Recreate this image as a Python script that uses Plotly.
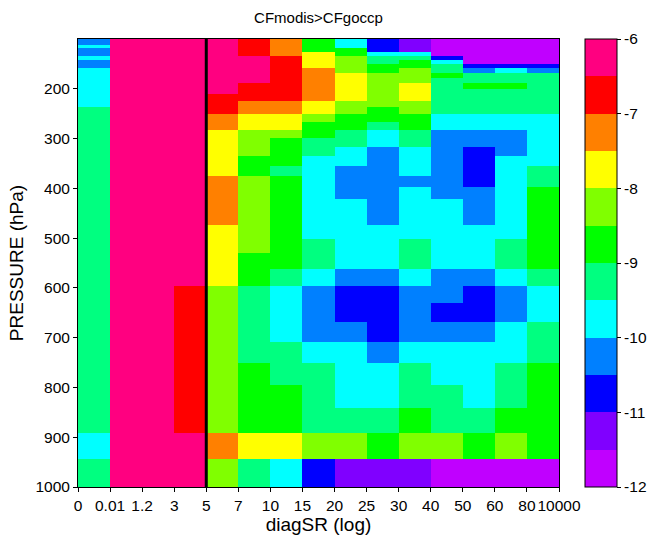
import plotly.graph_objects as go

# x categories (bin edges of diagSR, log)
x_tick_labels = ['0', '0.01', '1.2', '3', '5', '7', '10', '15', '20', '25',
                 '30', '40', '50', '60', '80', '10000']
x_edges = list(range(len(x_tick_labels)))

# pressure bin edges (hPa), top to bottom
p_edges = [100.0, 105.9, 112.2, 118.9, 125.9, 133.4, 141.3, 149.6, 158.5, 167.9,
           177.8, 188.4, 199.5, 211.3, 223.9, 237.1, 251.2, 266.1, 281.8, 298.5,
           316.2, 335.0, 354.8, 375.8, 398.1, 421.7, 446.7, 473.2, 501.2, 530.9,
           562.3, 595.7, 631.0, 668.3, 707.9, 749.9, 794.3, 841.4, 891.3, 944.1,
           1000.0]

y_ticks = [200, 300, 400, 500, 600, 700, 800, 900, 1000]

# log10 values per cell (rows = pressure bins top->bottom, cols = diagSR bins)
P, R, O, Y, L, G = -6.25, -6.75, -7.25, -7.75, -8.25, -8.75
S, C, B, D, V, M = -9.25, -9.75, -10.25, -10.75, -11.25, -11.75
z = [
    [B, P, P, P, P, R, O, G, C, D, V, M, M, M, M],
    [B, P, P, P, P, R, O, G, C, D, V, M, M, M, M],
    [C, P, P, P, P, R, O, G, C, D, V, M, M, M, M],
    [B, P, P, P, P, R, O, G, G, D, V, M, M, M, M],
    [B, P, P, P, P, R, O, Y, G, C, C, M, M, M, M],
    [C, P, P, P, P, P, R, Y, L, S, S, D, M, M, M],
    [B, P, P, P, P, P, R, Y, L, S, G, C, M, M, M],
    [B, P, P, P, P, P, R, Y, L, G, G, S, D, D, D],
    [C, P, P, P, P, P, R, O, L, G, L, S, B, C, B],
    [C, P, P, P, P, P, R, O, Y, L, L, G, S, S, S],
    [C, P, P, P, P, P, R, O, Y, L, L, S, S, S, S],
    [C, P, P, P, P, R, R, O, Y, L, Y, S, G, G, S],
    [C, P, P, P, P, R, R, O, Y, L, Y, S, S, S, S],
    [C, P, P, P, R, R, R, O, Y, L, Y, S, S, S, S],
    [C, P, P, P, R, O, O, Y, L, L, L, S, S, S, S],
    [S, P, P, P, R, O, O, Y, L, G, L, S, S, S, S],
    [S, P, P, P, O, Y, Y, L, G, G, G, C, C, C, C],
    [S, P, P, P, O, Y, Y, G, G, S, G, C, C, C, C],
    [S, P, P, P, Y, L, L, G, S, C, S, B, B, B, C],
    [S, P, P, P, Y, L, G, S, S, C, S, B, B, B, C],
    [S, P, P, P, Y, L, G, S, C, B, C, B, D, B, C],
    [S, P, P, P, Y, G, G, C, C, B, C, B, D, C, C],
    [S, P, P, P, Y, G, S, C, B, B, C, B, D, C, S],
    [S, P, P, P, O, L, G, C, B, B, B, B, D, C, S],
    [S, P, P, P, O, L, G, C, B, B, C, B, B, C, G],
    [S, P, P, P, O, L, G, C, C, B, C, C, B, C, G],
    [S, P, P, P, O, L, G, C, C, B, C, C, B, C, G],
    [S, P, P, P, Y, L, G, C, C, C, C, C, C, C, G],
    [S, P, P, P, Y, L, G, S, C, C, S, C, C, S, G],
    [S, P, P, P, Y, G, G, S, C, C, S, C, C, S, G],
    [S, P, P, P, Y, G, S, C, B, B, C, B, B, C, S],
    [S, P, P, R, L, S, C, B, D, D, B, B, D, B, C],
    [S, P, P, R, L, S, C, B, D, D, B, D, D, B, C],
    [S, P, P, R, L, S, C, B, B, D, B, B, B, C, S],
    [S, P, P, R, L, S, S, C, C, B, C, C, C, C, S],
    [S, P, P, R, L, G, S, S, C, C, S, C, C, S, G],
    [S, P, P, R, L, G, G, S, C, C, S, S, C, S, G],
    [S, P, P, R, L, G, G, S, S, S, G, S, S, G, G],
    [C, P, P, P, O, Y, Y, L, L, G, L, L, G, L, G],
    [S, P, P, P, L, S, C, D, V, V, V, M, M, M, M],
]

cb_ticks = [-6, -7, -8, -9, -10, -11, -12]
colors = ['#C000FF', '#8000FF', '#0000FF', '#0080FF', '#00FFFF', '#00FF80',
          '#00FF00', '#80FF00', '#FFFF00', '#FF8000', '#FF0000', '#FF0080']
n = len(colors)
cscale = []
for i, c in enumerate(colors):
    cscale.append([i / n, c])
    cscale.append([(i + 1) / n, c])

FONT = 'Arial, Liberation Sans, sans-serif'
FS = 15.5

fig = go.Figure(go.Heatmap(
    x=x_edges, y=p_edges, z=z, zmin=-12, zmax=-6, colorscale=cscale,
    colorbar=dict(
        x=1.054, xanchor='left', xref='paper', xpad=0, ypad=0,
        y=0.5, yanchor='middle', len=1.0, lenmode='fraction',
        thickness=32, thicknessmode='pixels', outlinewidth=1, outlinecolor='black',
        tickvals=cb_ticks, ticktext=[str(t) for t in cb_ticks], ticks='outside',
        ticklen=4, tickcolor='black', tickfont=dict(family=FONT, size=FS, color='black'),
    ),
))

fig.add_shape(type='line', xref='x', yref='paper', x0=4, x1=4, y0=0, y1=1,
              line=dict(color='black', width=3))

fig.update_layout(
    width=648, height=536,
    margin=dict(l=78, r=89, t=39, b=49, autoexpand=False),
    paper_bgcolor='white', plot_bgcolor='white',
    font=dict(family=FONT, size=FS, color='black'),
    title=dict(text='CFmodis>CFgoccp', x=0.5, xref='paper', y=1 - 18 / 536,
               yref='container', xanchor='center', yanchor='middle',
               font=dict(family=FONT, size=15, color='black')),
    xaxis=dict(range=[0, 15], tickvals=x_edges, ticktext=x_tick_labels, tickangle=0,
               ticks='outside', ticklen=4, tickcolor='black', showgrid=False,
               zeroline=False, showline=True, mirror=True, linecolor='black',
               linewidth=1, automargin=False,
               title=dict(text='diagSR (log)', standoff=5)),
    yaxis=dict(range=[1000, 100], tickvals=y_ticks, ticks='outside', ticklen=4,
               tickcolor='black', showgrid=False, zeroline=False, showline=True,
               mirror=True, linecolor='black', linewidth=1, automargin=False,
               title=dict(text='PRESSURE (hPa)', standoff=6)),
)

fig.write_html('out.html', config={'displayModeBar': False},
               post_script="document.body.style.margin='0px';"
                           "document.body.style.overflow='hidden';")
